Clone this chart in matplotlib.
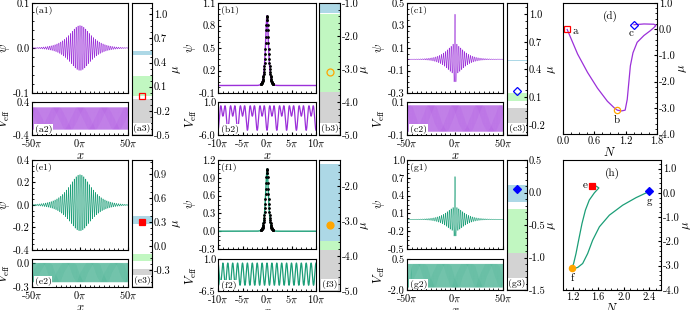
import numpy as np
import matplotlib
matplotlib.use('Agg')
import matplotlib.pyplot as plt
from matplotlib.ticker import AutoMinorLocator, MultipleLocator, FormatStrFormatter

pi = np.pi

# ---------------- values ----------------
# psi(x) = [core*sech(x/core_w) + tail*sech(x/tail_w)] * (cos x + offset)   (widths in units of pi)
a_core, a_core_w, a_tail, a_tail_w, a_off = 0.0, 0.3, 0.05, 10.0, 0.0
b_core, b_core_w, b_tail, b_tail_w, b_off = 0.93, 0.27, 0.0, 1.0, None
c_core, c_core_w, c_tail, c_tail_w, c_off = 0.27, 0.48, 0.13, 8.0, 0.0
e_core, e_core_w, e_tail, e_tail_w, e_off = 0.0, 0.3, 0.25, 10.5, 0.08
f_core, f_core_w, f_tail, f_tail_w, f_off = 1.05, 0.26, 0.0, 1.0, None
g_core, g_core_w, g_tail, g_tail_w, g_off = 0.52, 0.38, 0.20, 8.0, 0.0

# V_eff(x) = mean + amp2*cos(2x) + amp1*cos(x) + spike*cos(x)^4
a_veff = [0.0, 0.27, 0.0, 0.0]
b_veff = [-1.73, -1.77, -1.5, 0.0]
c_veff = [0.0, 0.08, 0.0, 0.0]
e_veff = [0.0, 0.0, 0.0, -0.24]
f_veff = [-2.55, 2.6, 0.0, 0.0]
g_veff = [0.1, 0.0, 0.0, -1.9]

# band structure panels: (low, high) of gray / green / blue regions
a_gray, a_green, a_blue = (-0.5, -0.057), (-0.016, 0.232), (0.50, 0.545)
b_gray, b_green, b_blue = (-5.0, -3.70), (-3.70, -1.34), (-1.29, -1.0)
c_gray, c_green, c_blue = (-0.31, -0.02), (0.06, 0.145), (0.49, 0.505)
e_gray, e_green, e_blue = (-0.51, -0.29), (-0.19, -0.096), (0.28, 0.37)
f_gray, f_green, f_blue = (-5.0, -3.82), (-3.82, -3.58), (-3.58, -1.37)
g_gray, g_green, g_blue = (-1.5, -0.93), (-0.93, -0.26), (-0.15, 0.12)

# states a..g on the N-mu curves
state_names = ['a', 'b', 'c', 'e', 'f', 'g']
state_N = [0.08, 1.04, 1.36, 1.50, 1.19, 2.40]
state_mu = [-0.01, -3.09, 0.17, 0.30, -3.10, 0.06]

# mu(N) branch in (d)
d_N = [0.08, 0.28, 0.47, 0.66, 0.85, 0.98, 1.04, 1.12, 1.19, 1.23, 1.26, 1.29,
       1.34, 1.42, 1.55, 1.67, 1.74, 1.78, 1.74, 1.55, 1.36]
d_mu = [-0.01, -0.95, -1.65, -2.25, -2.75, -3.0, -3.09, -3.12, -3.09, -2.68, -2.04,
        -1.4, -0.9, -0.5, -0.24, -0.06, 0.06, 0.14, 0.19, 0.2, 0.17]
# mu(N) branch in (h)
h_N = [1.50, 1.57, 1.61, 1.54, 1.46, 1.40, 1.347, 1.294, 1.253, 1.216, 1.19,
       1.22, 1.28, 1.357, 1.435, 1.513, 1.618, 1.774, 1.982, 2.19, 2.40]
h_mu = [0.30, 0.27, 0.20, 0.0, -0.3, -0.71, -1.26, -1.95, -2.5, -2.91, -3.10,
        -3.12, -3.07, -2.91, -2.5, -1.95, -1.4, -0.92, -0.51, -0.2, 0.06]

# ---------------- style ----------------
plt.rcParams.update({
    'font.family': 'cmr10',
    'mathtext.fontset': 'cm',
    'axes.unicode_minus': False,
    'axes.formatter.use_mathtext': True,
    'font.size': 7.5,
    'xtick.direction': 'in', 'ytick.direction': 'in',
    'xtick.major.size': 2.5, 'ytick.major.size': 2.5,
    'xtick.minor.size': 1.3, 'ytick.minor.size': 1.3,
    'xtick.major.pad': 2, 'ytick.major.pad': 1.5,
    'axes.linewidth': 0.8,
})
purple = '#9b30d9'
green = '#1b9e77'
c_gray_band, c_green_band, c_blue_band = '#d3d3d3', '#c1f7c1', '#add8e6'

W, H = 691, 310
fig = plt.figure(figsize=(6.91, 3.10), dpi=100)


def box(l, t, r, b):
    return fig.add_axes([l / W, 1 - b / H, (r - l) / W, (b - t) / H])


def sech(z):
    return 1.0 / np.cosh(z)


def psi(x, core, core_w, tail, tail_w, off):
    env = core * sech(x / (core_w * pi)) + tail * sech(x / (tail_w * pi))
    if off is None:
        return env
    return env * (np.cos(x) + off)


def veff(x, p):
    return p[0] + p[1] * np.cos(2 * x) + p[2] * np.cos(x) + p[3] * np.cos(x) ** 4


def pi_labels(vals):
    return [('%d' % v) + r'$\pi$' for v in vals]


def tag(ax, s, x, y, ha, va, boxed):
    kw = dict(transform=ax.transAxes, ha=ha, va=va, fontsize=7)
    if boxed:
        kw['bbox'] = dict(facecolor='white', edgecolor='none', pad=0.5)
    ax.text(x, y, s, **kw)


def state(name, boxes, span, p, v, col, ylim1, yt1, ylim2, yt2,
          bands, ylim3, yt3, mu, mk, filled, dots=False):
    b1, b2, b3 = boxes
    x = np.linspace(-span * pi, span * pi, 40001)
    xt = [-span, 0, span] if span == 50 else [-10, -5, 0, 5, 10]
    minor = 5 * pi if span == 50 else pi
    dense = span == 50

    ax1 = box(*b1)
    ax1.plot(x, psi(x, *p), color=col, lw=0.4 if dense else 1.0)
    if dots:
        xd = np.linspace(-1.3 * pi, 1.3 * pi, 55)
        ax1.plot(xd, psi(xd, *p), 'k.', ms=2.0)
    ax1.set_xlim(-span * pi, span * pi)
    ax1.set_ylim(*ylim1)
    ax1.set_yticks(yt1)
    ax1.yaxis.set_major_formatter(FormatStrFormatter('%.1f'))
    ax1.yaxis.set_minor_locator(AutoMinorLocator())
    ax1.set_xticks(np.array(xt) * pi)
    ax1.set_xticklabels([])
    ax1.xaxis.set_minor_locator(MultipleLocator(minor))
    ax1.set_ylabel(r'$\psi$', fontsize=9, labelpad=0.5)
    tag(ax1, '(%s1)' % name, 0.03, 0.97, 'left', 'top', False)

    ax2 = box(*b2)
    ax2.plot(x, veff(x, v), color=col, lw=0.22 if dense else 0.9)
    ax2.set_xlim(-span * pi, span * pi)
    ax2.set_ylim(*ylim2)
    ax2.set_yticks(yt2)
    ax2.yaxis.set_major_formatter(FormatStrFormatter('%.1f'))
    ax2.set_xticks(np.array(xt) * pi)
    ax2.set_xticklabels(pi_labels(xt))
    ax2.xaxis.set_minor_locator(MultipleLocator(minor))
    ax2.set_xlabel(r'$x$', fontsize=9, labelpad=0)
    ax2.set_ylabel(r'$V_{\rm eff}$', fontsize=9, labelpad=0.5)
    tag(ax2, '(%s2)' % name, 0.03, 0.04, 'left', 'bottom', True)

    ax3 = box(*b3)
    gray, grn, blu = bands
    ax3.axhspan(*gray, color=c_gray_band, lw=0)
    ax3.axhspan(*grn, color=c_green_band, lw=0)
    ax3.axhspan(*blu, color=c_blue_band, lw=0)
    mcol = {'s': 'red', 'o': 'orange', 'D': 'blue'}[mk]
    ms = {'s': 4.5, 'o': 5, 'D': 4}[mk]
    ax3.plot(0.5, mu, marker=mk, ms=ms, mec=mcol, mew=0.9,
             mfc=mcol if filled else 'none')
    ax3.set_xlim(0, 1)
    ax3.set_ylim(*ylim3)
    ax3.set_xticks([])
    ax3.yaxis.tick_right()
    ax3.yaxis.set_label_position('right')
    ax3.set_yticks(yt3)
    ax3.yaxis.set_minor_locator(AutoMinorLocator())
    ax3.yaxis.set_major_formatter(FormatStrFormatter('%.1f'))
    ax3.set_ylabel(r'$\mu$', fontsize=9, labelpad=0)
    tag(ax3, '(%s3)' % name, 0.5, 0.015, 'center', 'bottom', True)


mu_of = dict(zip(state_names, state_mu))
N_of = dict(zip(state_names, state_N))

state('a', [(32, 3, 128, 93), (32, 102, 128, 135), (132, 3, 152, 135)], 50,
      (a_core, a_core_w, a_tail, a_tail_w, a_off), a_veff, purple,
      (-0.1, 0.1), [-0.1, 0.0, 0.1], (-0.4, 0.4), [-0.4, 0.4],
      (a_gray, a_green, a_blue), (-0.5, 1.14), [-0.5, -0.2, 0.1, 0.4, 0.7, 1.0],
      mu_of['a'], 's', False)
state('b', [(218, 3, 316, 93), (218, 102, 316, 135), (319, 3, 340, 135)], 10,
      (b_core, b_core_w, b_tail, b_tail_w, b_off), b_veff, purple,
      (-0.1, 1.1), [-0.1, 0.2, 0.5, 0.8, 1.1], (-6.0, 1.0), [-6.0, 1.0],
      (b_gray, b_green, b_blue), (-5.0, -1.0), [-5.0, -4.0, -3.0, -2.0, -1.0],
      mu_of['b'], 'o', False, dots=True)
state('c', [(407, 3, 503, 93), (407, 102, 503, 135), (507, 3, 527, 135)], 50,
      (c_core, c_core_w, c_tail, c_tail_w, c_off), c_veff, purple,
      (-0.3, 0.5), [-0.3, -0.1, 0.1, 0.3, 0.5], (-0.1, 0.1), [-0.1, 0.1],
      (c_gray, c_green, c_blue), (-0.31, 1.12), [-0.2, 0.1, 0.4, 0.7, 1.0],
      mu_of['c'], 'D', False)
state('e', [(32, 160, 128, 250), (32, 259, 128, 287), (132, 160, 152, 287)], 50,
      (e_core, e_core_w, e_tail, e_tail_w, e_off), e_veff, green,
      (-0.4, 0.4), [-0.4, -0.2, 0.0, 0.2, 0.4], (-0.3, 0.05), [-0.3, 0.0],
      (e_gray, e_green, e_blue), (-0.51, 1.075), [-0.3, 0.0, 0.3, 0.6, 0.9],
      mu_of['e'], 's', True)
state('f', [(218, 160, 316, 249), (218, 259, 316, 291), (319, 160, 340, 291)], 10,
      (f_core, f_core_w, f_tail, f_tail_w, f_off), f_veff, green,
      (-0.3, 1.2), [-0.3, 0.0, 0.3, 0.6, 0.9, 1.2], (-6.5, 1.0), [-6.5, 1.0],
      (f_gray, f_green, f_blue), (-5.0, -1.25), [-5.0, -4.0, -3.0, -2.0],
      mu_of['f'], 'o', True, dots=True)
state('g', [(407, 160, 503, 249), (407, 259, 503, 290), (507, 160, 527, 290)], 50,
      (g_core, g_core_w, g_tail, g_tail_w, g_off), g_veff, green,
      (-0.5, 1.0), [-0.5, -0.2, 0.1, 0.4, 0.7, 1.0], (-2.0, 0.5), [-2.0, 0.5],
      (g_gray, g_green, g_blue), (-1.5, 0.5), [-1.5, -1.0, -0.5, 0.0, 0.5],
      mu_of['g'], 'D', True)


def branch(bx, Ns, mus, col, names, xlim, xt, tagname, filled):
    ax = box(*bx)
    ax.plot(Ns, mus, color=col, lw=0.9)
    marks = {'a': 's', 'b': 'o', 'c': 'D', 'e': 's', 'f': 'o', 'g': 'D'}
    cols = {'s': 'red', 'o': 'orange', 'D': 'blue'}
    offs = {'a': (4, -1, 'left', 'center'), 'b': (0, -4, 'center', 'top'),
            'c': (-2, -3, 'center', 'top'), 'e': (-3, 0, 'right', 'center'),
            'f': (0, -4, 'center', 'top'), 'g': (0, -4, 'center', 'top')}
    for n in names:
        m = marks[n]
        ax.plot(N_of[n], mu_of[n], marker=m, ms=4.5 if m != 'D' else 4,
                mec=cols[m], mew=0.9, mfc=cols[m] if filled else 'none')
        dx, dy, ha, va = offs[n]
        ax.annotate(n, (N_of[n], mu_of[n]), xytext=(dx, dy),
                    textcoords='offset points', ha=ha, va=va, fontsize=8)
    ax.set_xlim(*xlim)
    ax.set_xticks(xt)
    ax.xaxis.set_major_formatter(FormatStrFormatter('%.1f'))
    ax.xaxis.set_minor_locator(AutoMinorLocator())
    ax.yaxis.tick_right()
    ax.yaxis.set_label_position('right')
    ax.set_yticks([-4.0, -3.0, -2.0, -1.0, 0.0, 1.0])
    ax.yaxis.set_major_formatter(FormatStrFormatter('%.1f'))
    ax.yaxis.set_minor_locator(AutoMinorLocator())
    ax.set_xlabel(r'$N$', fontsize=9, labelpad=0)
    ax.set_ylabel(r'$\mu$', fontsize=9, labelpad=1)
    ax.text(0.5, 0.94, tagname, transform=ax.transAxes, ha='center', va='top', fontsize=8)
    return ax


axd = branch((563, 3, 657, 134), d_N, d_mu, purple, ['a', 'b', 'c'],
             (0.0, 1.8), [0.0, 0.6, 1.2, 1.8], '(d)', False)
axd.set_ylim(-4.0, 1.0)
axh = branch((563, 160, 661, 290), h_N, h_mu, green, ['e', 'f', 'g'],
             (1.05, 2.58), [1.2, 1.6, 2.0, 2.4], '(h)', True)
axh.set_ylim(-4.0, 1.35)

fig.savefig('out.png', dpi=100)
